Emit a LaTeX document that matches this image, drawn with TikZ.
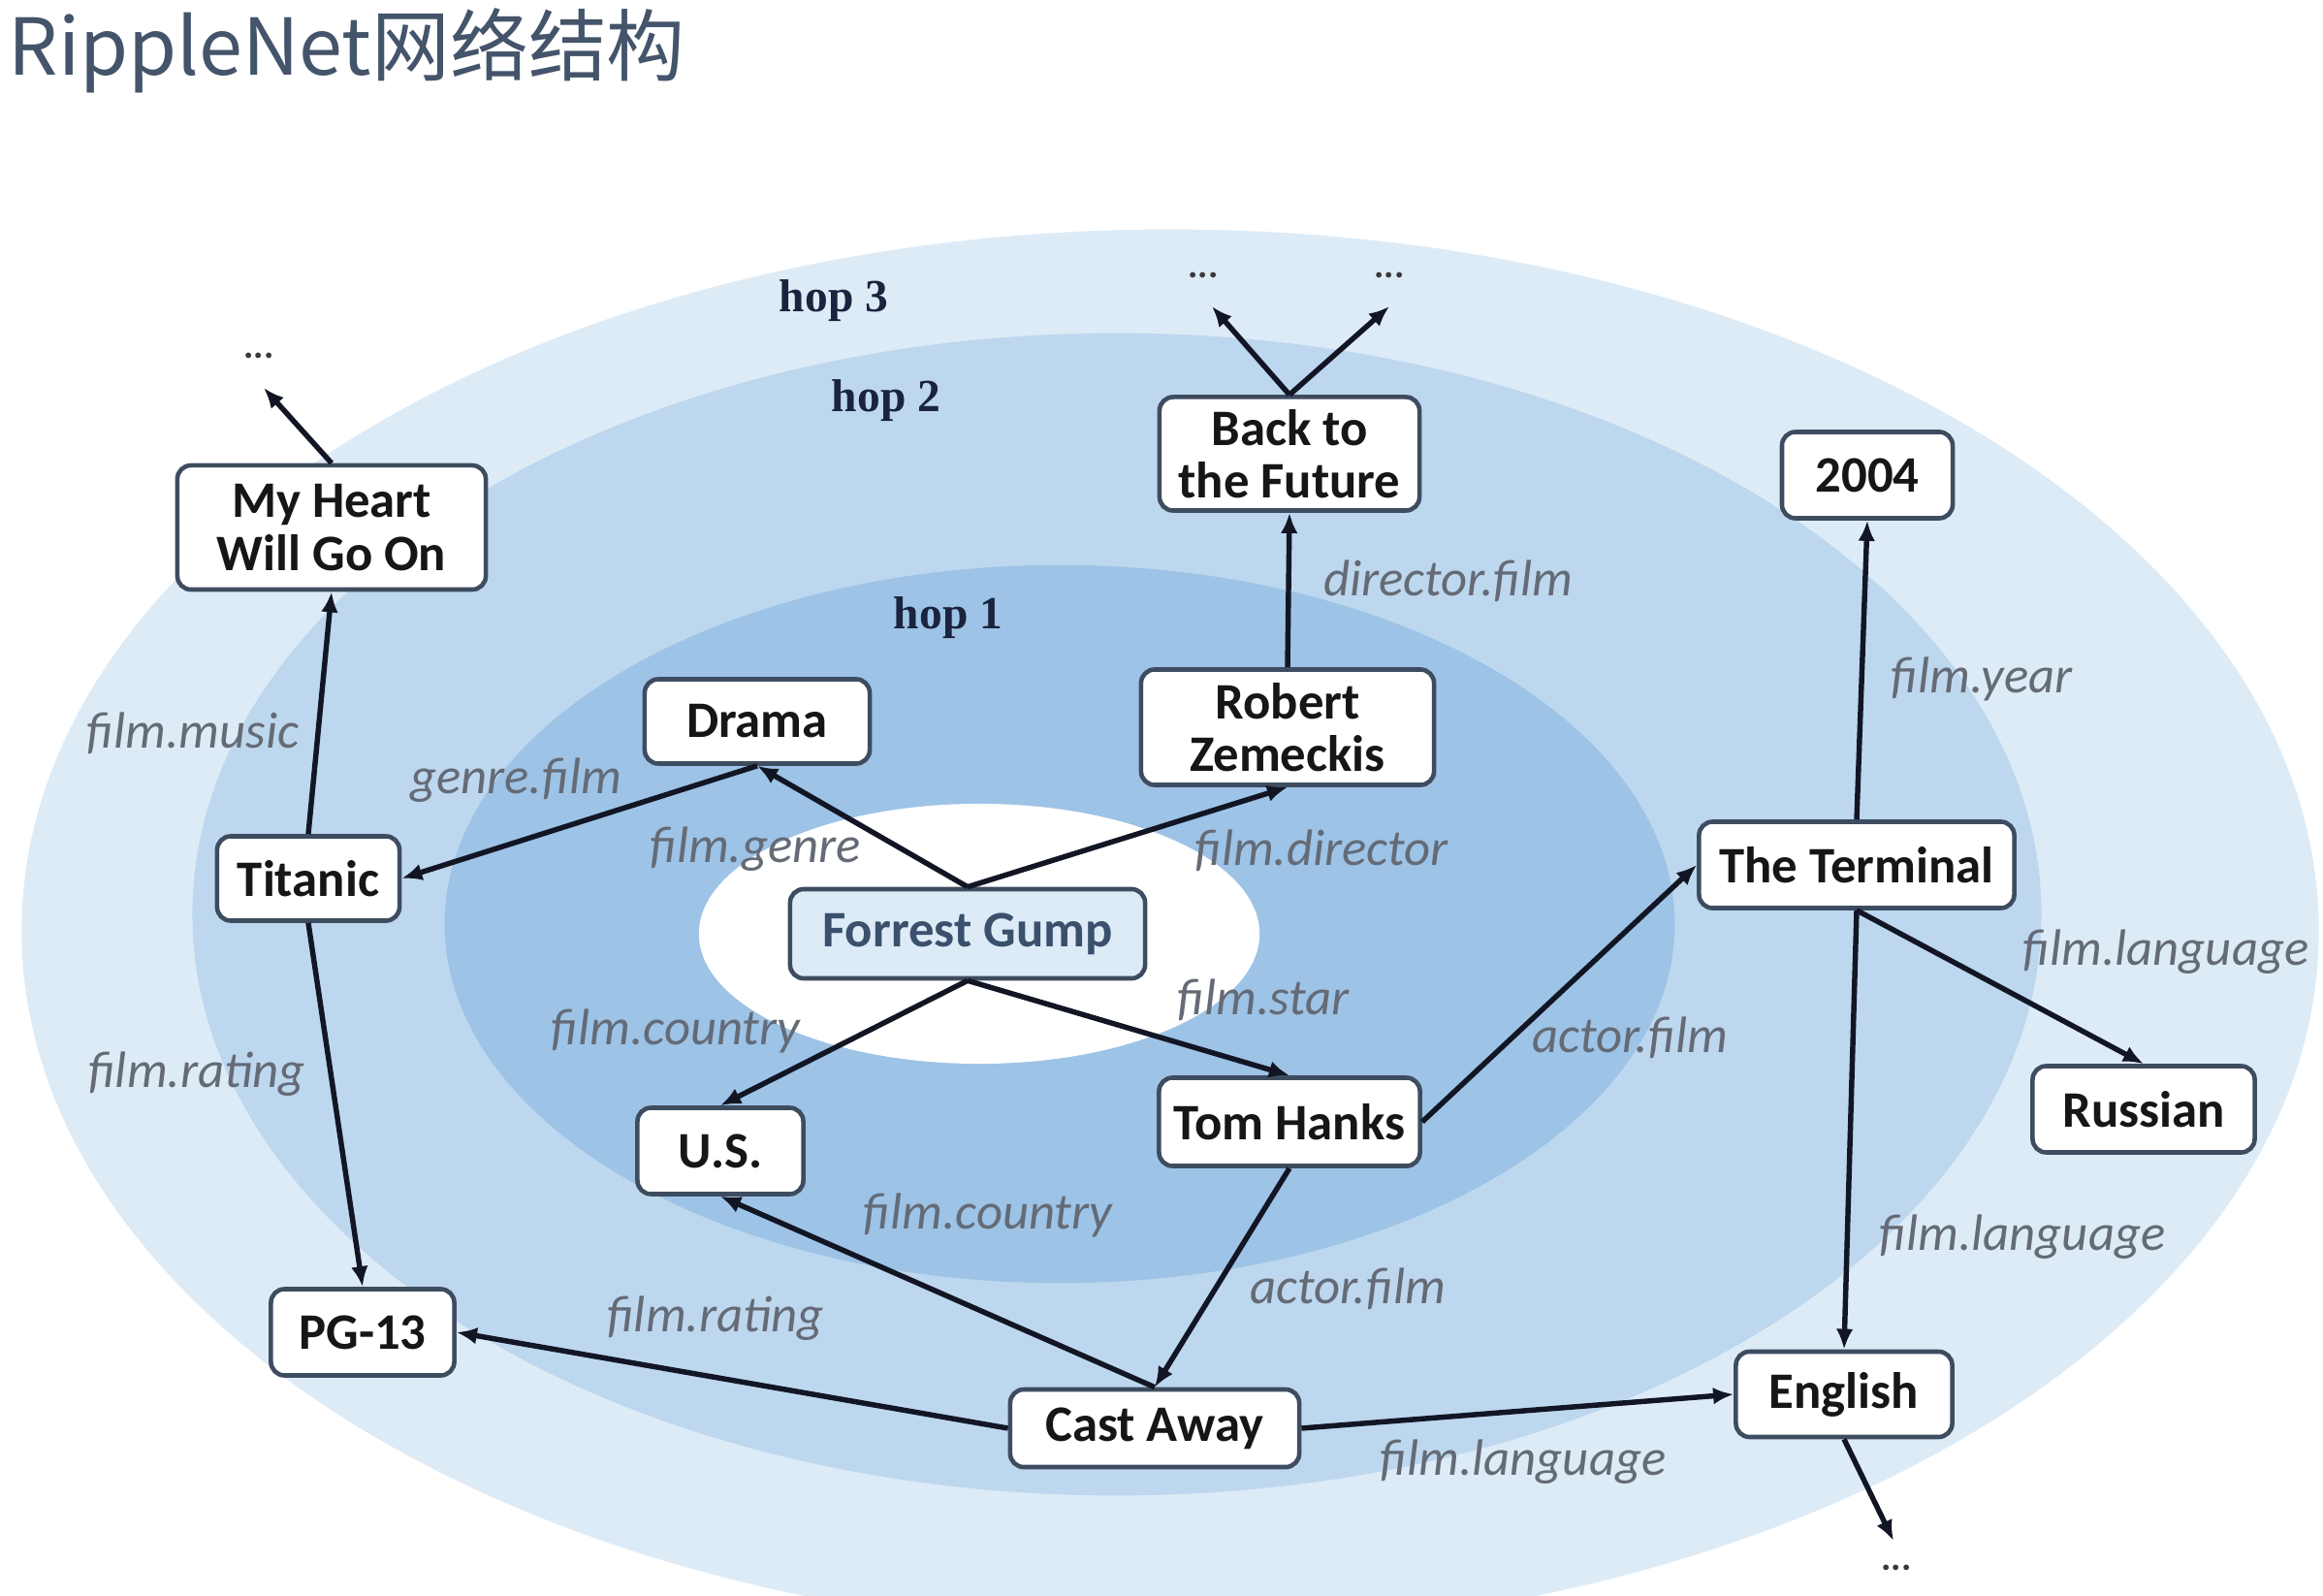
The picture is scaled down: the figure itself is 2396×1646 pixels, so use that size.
\documentclass[tikz,border=0pt]{standalone}
\usepackage{fontspec}
\setmainfont{Carlito}
\newfontfamily\hopfont{Liberation Serif}
\newfontfamily\cjkfont{Noto Sans CJK SC}
\usetikzlibrary{arrows.meta}
\definecolor{hopthree}{RGB}{221,235,247}
\definecolor{hoptwo}{RGB}{189,215,238}
\definecolor{hopone}{RGB}{157,195,230}
\definecolor{boxc}{RGB}{62,76,96}
\definecolor{nodetxt}{RGB}{22,22,24}
\definecolor{labc}{RGB}{100,107,118}
\definecolor{hopc}{RGB}{26,36,62}
\definecolor{edgec}{RGB}{18,22,36}
\definecolor{titlec}{RGB}{68,84,106}
\definecolor{fgfill}{RGB}{221,235,247}
\definecolor{fgtxt}{RGB}{58,80,108}
\tikzset{
  ent/.style={draw=boxc, line width=1.3pt, fill=white, rounded corners=4pt,
    font=\bfseries\fontsize{15}{15.5}\selectfont, text=nodetxt, align=center, inner sep=0pt},
  rel/.style={font=\itshape\fontsize{15}{17}\selectfont, text=labc, inner sep=0pt},
  hoplab/.style={font=\hopfont\bfseries\fontsize{13.5}{15}\selectfont, text=hopc, inner sep=0pt},
  link/.style={draw=edgec, line width=1.55pt, -{Latex[length=6pt,width=5pt]}},
  more/.style={font=\bfseries\fontsize{11}{12}\selectfont, text=nodetxt!85, inner sep=0pt}
}
\begin{document}
\begin{tikzpicture}[x=0.01cm, y=-0.01cm]
\useasboundingbox (0,0) rectangle (2396,1646);
\fill[white] (0,0) rectangle (2396,1646);
\begin{scope}
  \clip (0,0) rectangle (2396,1646);
  \fill[hopthree] (1207,960) ellipse [x radius=11.84cm, y radius=7.23cm];
  \fill[hoptwo] (1152,943) ellipse [x radius=9.53cm, y radius=5.99cm];
  \fill[hopone] (1093,953) ellipse [x radius=6.34cm, y radius=3.70cm];
  \fill[white] (1010,963) ellipse [x radius=2.89cm, y radius=1.34cm];
\end{scope}

% title
\node[anchor=base west, inner sep=0pt, text=titlec, font=\cjkfont\fontsize{23}{26}\selectfont] (title) at (8,78) {RippleNet网络结构};

% hop labels
\node[hoplab] (hop3) at (860,310) {hop 3};
\node[hoplab] (hop2) at (914,413) {hop 2};
\node[hoplab] (hop1) at (978,637) {hop 1};

% entities
\node[ent, minimum width=3.18cm, minimum height=1.28cm] (myheart) at (342,544) {My Heart\\Will Go On};
\node[ent, minimum width=1.88cm, minimum height=0.87cm] (titanic) at (318,906) {Titanic};
\node[ent, minimum width=2.32cm, minimum height=0.87cm] (drama) at (781,744) {Drama};
\node[ent, minimum width=2.68cm, minimum height=1.17cm] (btf) at (1330,468) {Back to\\the Future};
\node[ent, minimum width=3.02cm, minimum height=1.19cm] (rz) at (1328,750) {Robert\\Zemeckis};
\node[ent, minimum width=3.66cm, minimum height=0.92cm, fill=fgfill, text=fgtxt] (fg) at (998,963) {Forrest Gump};
\node[ent, minimum width=1.76cm, minimum height=0.89cm] (y2004) at (1926,490) {2004};
\node[ent, minimum width=3.25cm, minimum height=0.89cm] (terminal) at (1915,892) {The Terminal};
\node[ent, minimum width=2.29cm, minimum height=0.89cm] (russian) at (2211,1144) {Russian};
\node[ent, minimum width=2.69cm, minimum height=0.91cm] (tomhanks) at (1330,1157) {Tom Hanks};
\node[ent, minimum width=1.71cm, minimum height=0.89cm] (us) at (743,1187) {U.S.};
\node[ent, minimum width=1.89cm, minimum height=0.89cm] (pg13) at (374,1374) {PG-13};
\node[ent, minimum width=2.98cm, minimum height=0.80cm] (castaway) at (1191,1473) {Cast Away};
\node[ent, minimum width=2.23cm, minimum height=0.88cm] (english) at (1902,1438) {English};

% continuation marks
\node[more] (dots1) at (267,367) {...};
\node[more] (dots2) at (1241,284) {...};
\node[more] (dots3) at (1433,284) {...};
\node[more] (dots4) at (1956,1617) {...};
\coordinate (m1) at (272,400);
\coordinate (b1) at (1250,316);
\coordinate (b2) at (1433,316);
\coordinate (e1) at (1953,1589);

% connectors
\draw[link] (fg.north) -- (drama.south);
\draw[link] (fg.north) -- (rz.south);
\draw[link] (fg.south) -- (us.north);
\draw[link] (fg.south) -- (tomhanks.north);
\draw[link] (drama.south) -- (titanic.east);
\draw[link] (rz.north) -- (btf.south);
\draw[link] (titanic.north) -- (myheart.south);
\draw[link] (titanic.south) -- (pg13.north);
\draw[link] (tomhanks.east) -- (terminal.west);
\draw[link] (tomhanks.south) -- (castaway.north);
\draw[link] (castaway.north) -- (us.south);
\draw[link] (castaway.west) -- (pg13.east);
\draw[link] (castaway.east) -- (english.west);
\draw[link] (terminal.north) -- (y2004.south);
\draw[link] (terminal.south) -- (russian.north);
\draw[link] (terminal.south) -- (english.north);
\draw[link] (english.south) -- (e1);
\draw[link] (myheart.north) -- (m1);
\draw[link] (btf.north) -- (b1);
\draw[link] (btf.north) -- (b2);

% relation labels
\node[rel] (l1) at (199,756) {film.music};
\node[rel] (l2) at (532,805) {genre.film};
\node[rel] (l3) at (779,876) {film.genre};
\node[rel] (l4) at (1363,877) {film.director};
\node[rel] (l5) at (1494,599) {director.film};
\node[rel] (l6) at (2044,700) {film.year};
\node[rel] (l7) at (2234,982) {film.language};
\node[rel] (l8) at (1303,1031) {film.star};
\node[rel] (l9) at (697,1063) {film.country};
\node[rel] (l10) at (1681,1070) {actor.film};
\node[rel] (l11) at (203,1108) {film.rating};
\node[rel] (l12) at (1019,1253) {film.country};
\node[rel] (l13) at (2086,1276) {film.language};
\node[rel] (l14) at (1390,1329) {actor.film};
\node[rel] (l15) at (738,1360) {film.rating};
\node[rel] (l16) at (1571,1508) {film.language};
\end{tikzpicture}
\end{document}
